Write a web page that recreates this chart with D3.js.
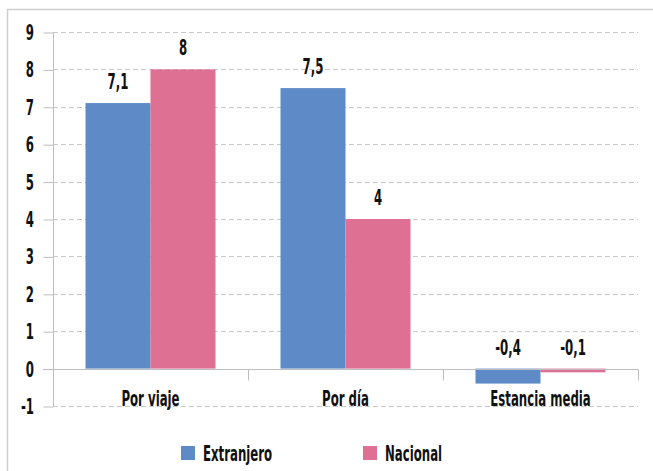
<!DOCTYPE html>
<html>
<head>
<meta charset="utf-8">
<script src="https://cdn.jsdelivr.net/npm/d3@7"></script>
<style>
  body { margin: 0; background: #fff; }
  text { font-family: "DejaVu Sans", sans-serif; font-weight: bold; fill: #111; }
</style>
</head>
<body>
<div id="chart"></div>
<script>
// datos
const CATEGORIES = ["Por viaje", "Por día", "Estancia media"];
const SERIES = ["Extranjero", "Nacional"];
const EXTRANJERO = [7.1, 7.5, -0.4];
const NACIONAL = [8, 4, -0.1];
const Y_TICKS = [-1, 0, 1, 2, 3, 4, 5, 6, 7, 8, 9];
const COLORS = ["#5E8AC7", "#DE7093"];

const WIDTH = 653;
const HEIGHT = 471;
const LEFT = 53;
const RIGHT = 638;
const CONDENSE = 0.56;

const SVG = d3.select("#chart").append("svg")
  .attr("width", WIDTH)
  .attr("height", HEIGHT);

// texto estrecho: se escala en horizontal
function narrowText(parent, x, y, txt, anchor) {
  return parent.append("text")
    .attr("transform", "translate(" + x + "," + y + ") scale(" + CONDENSE + ",1)")
    .attr("text-anchor", anchor || "middle")
    .attr("font-size", 21)
    .text(txt);
}

// marco exterior
SVG.append("path")
  .attr("d", "M7.5," + HEIGHT + "V9.5H" + WIDTH)
  .attr("fill", "none")
  .attr("stroke", "#cfcfcf")
  .attr("stroke-width", 1.5);

const Y = d3.scaleLinear()
  .domain([-1, 9])
  .range([406, 32]);

const X = d3.scaleBand()
  .domain(CATEGORIES)
  .range([LEFT, RIGHT]);

const XS = d3.scaleBand()
  .domain(SERIES)
  .range([0, X.bandwidth()])
  .paddingInner(0)
  .paddingOuter(0.5);

// rejilla
SVG.append("g")
  .selectAll("line")
  .data(Y_TICKS.filter(d => d !== 0))
  .enter()
  .append("line")
  .attr("x1", LEFT)
  .attr("x2", RIGHT)
  .attr("y1", d => Math.round(Y(d)) + 0.5)
  .attr("y2", d => Math.round(Y(d)) + 0.5)
  .attr("stroke", "#c8c8c8")
  .attr("stroke-dasharray", "5,3");

// eje Y
const yAxis = SVG.append("g")
  .attr("transform", "translate(" + (LEFT + 0.5) + ",0.5)")
  .call(d3.axisLeft(Y).tickValues(Y_TICKS).tickSize(10).tickFormat(""));
yAxis.select(".domain").attr("stroke", "#bdbdbd").attr("d", "M0," + Math.round(Y(9)) + "V" + Math.round(Y(-1)));
yAxis.selectAll(".tick line").attr("stroke", "#bdbdbd");

const yLabels = SVG.append("g");
Y_TICKS.forEach(t => narrowText(yLabels, 34, Y(t) + 8, String(t), "end"));

// barras
const data = [];
CATEGORIES.forEach((c, i) => {
  data.push({cat: c, serie: SERIES[0], value: EXTRANJERO[i], color: COLORS[0]});
  data.push({cat: c, serie: SERIES[1], value: NACIONAL[i], color: COLORS[1]});
});

SVG.append("g")
  .selectAll("rect")
  .data(data)
  .enter()
  .append("rect")
  .attr("x", d => X(d.cat) + XS(d.serie))
  .attr("width", XS.bandwidth())
  .attr("y", d => Y(Math.max(0, d.value)))
  .attr("height", d => Math.abs(Y(d.value) - Y(0)))
  .attr("fill", d => d.color);

// eje X en cero
const zeroY = Math.round(Y(0)) + 0.5;
SVG.append("line")
  .attr("x1", LEFT - 10)
  .attr("x2", RIGHT)
  .attr("y1", zeroY)
  .attr("y2", zeroY)
  .attr("stroke", "#bdbdbd");
SVG.append("g")
  .selectAll("line")
  .data(CATEGORIES)
  .enter()
  .append("line")
  .attr("x1", d => Math.round(X(d) + X.bandwidth()) + 0.5)
  .attr("x2", d => Math.round(X(d) + X.bandwidth()) + 0.5)
  .attr("y1", zeroY)
  .attr("y2", zeroY + 11)
  .attr("stroke", "#bdbdbd");

// etiquetas de categoria
const catLabels = SVG.append("g");
CATEGORIES.forEach(c => narrowText(catLabels, X(c) + X.bandwidth() / 2, 406, c));

// etiquetas de valor
const valLabels = SVG.append("g");
data.forEach(d => narrowText(valLabels,
  X(d.cat) + XS(d.serie) + XS.bandwidth() / 2,
  Y(Math.max(0, d.value)) - 14,
  String(d.value).replace(".", ",")));

// leyenda
const LEGEND_X = [181, 363];
const legend = SVG.append("g");
SERIES.forEach((s, i) => {
  legend.append("rect")
    .attr("x", LEGEND_X[i])
    .attr("y", 446)
    .attr("width", 14)
    .attr("height", 14)
    .attr("fill", COLORS[i]);
  narrowText(legend, LEGEND_X[i] + 22, 461, s, "start");
});
</script>
</body>
</html>
